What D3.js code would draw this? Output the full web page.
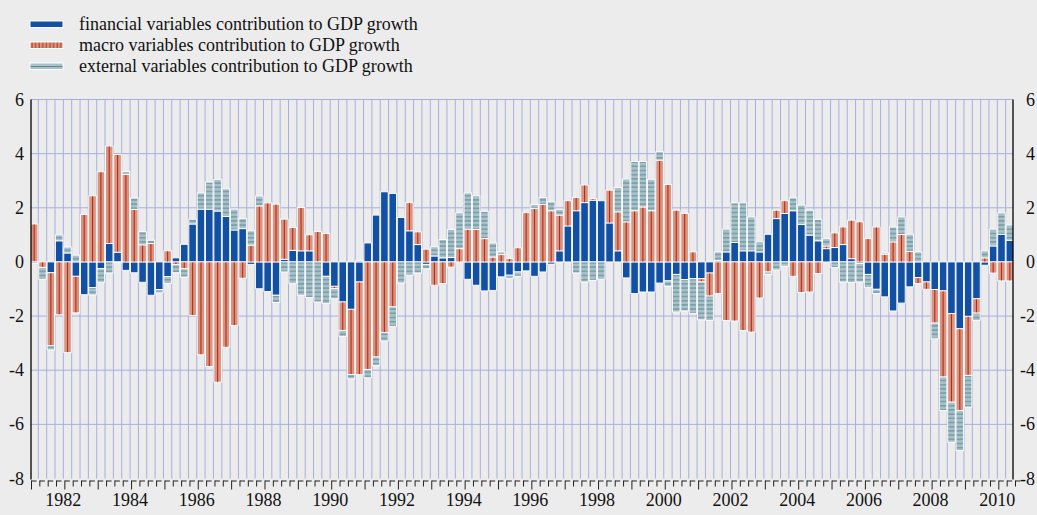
<!DOCTYPE html>
<html>
<head>
<meta charset="utf-8">
<script src="https://cdn.jsdelivr.net/npm/d3@7"></script>
<style>
    body { margin: 0; background: #ececec; }
    svg { display: block; }
    text { font-family: 'Liberation Serif', 'Times New Roman', serif; }
</style>
</head>
<body>
<svg width="1037" height="515"></svg>
<script>
// quarterly contributions, 1981Q1 - 2010Q2
const years = [1981, 1982, 1983, 1984, 1985, 1986, 1987, 1988, 1989, 1990,
    1991, 1992, 1993, 1994, 1995, 1996, 1997, 1998, 1999, 2000,
    2001, 2002, 2003, 2004, 2005, 2006, 2007, 2008, 2009, 2010];
const quarterNames = ['Q1', 'Q2', 'Q3', 'Q4'];
const quarterCount = 118;

const financial = [
    0, 0, -0.4, 0.78, 0.33, -0.53, -1.21, -0.95, -0.25, 0.68,
    0.36, -0.31, -0.4, -0.75, -1.23, -1.02, -0.54, 0.15, 0.65, 1.4,
    1.95, 1.95, 1.88, 1.68, 1.18, 1.23, -0.09, -0.99, -1.09, -1.23,
    0.1, 0.43, 0.41, 0.41, 0, -0.53, -0.9, -1.48, -1.75, -0.74,
    0.7, 1.73, 2.59, 2.53, 1.64, 1.15, 0.64, -0.09, 0.22, 0.15,
    0.16, 0, -0.64, -0.86, -1.07, -1.05, -0.55, -0.49, -0.37, -0.33,
    -0.53, -0.37, -0.08, 0.41, 1.33, 1.89, 2.19, 2.28, 2.26, 1.44,
    0.41, -0.59, -1.17, -1.11, -1.11, -0.78, -0.7, -0.46, -0.65, -0.62,
    -0.62, -0.41, 0.06, 0.37, 0.72, 0.41, 0.41, 0.37, 1.02, 1.6,
    1.79, 1.89, 1.38, 0.99, 0.78, 0.49, 0.53, 0.64, 0.12, -0.06,
    -0.46, -1.01, -1.29, -1.81, -1.52, -0.92, -0.58, -0.74, -1.02, -1.07,
    -1.91, -2.47, -2.01, -1.36, -0.12, 0.59, 1.02, 0.8
];
const macro = [
    1.4, -0.2, -2.7, -1.95, -3.35, -1.35, 1.75, 2.44, 3.33, 3.6,
    3.61, 3.23, 1.94, 0.63, 0.68, 0, 0.41, -0.1, -0.25, -1.98,
    -3.43, -3.86, -4.44, -3.15, -2.35, -0.6, 0.62, 2.07, 2.18, 2.13,
    1.48, 0.84, 1.6, 0.59, 1.12, 1.05, -0.08, -1.05, -2.41, -3.42,
    -3.97, -3.51, -2.61, -1.66, 0, 1.04, 0.47, 0.47, -0.86, -0.8,
    -0.19, 0.49, 1.21, 1.2, 0.86, 0.18, 0.27, 0.12, 0.52, 1.82,
    1.97, 2.12, 1.89, 1.32, 0.93, 0.49, 0.65, 0.06, 0, 1.21,
    1.44, 1.48, 1.89, 2.03, 1.89, 3.76, 2.86, 1.91, 1.79, 0.37,
    -0.12, -0.85, -1.17, -2.16, -2.18, -2.53, -2.59, -1.33, -0.37, 0.31,
    0.47, -0.53, -1.13, -1.11, -0.43, 0.1, 0.54, 0.65, 1.42, 1.48,
    0.86, 1.29, 0.28, 0.74, 1.01, 0.39, -0.22, -0.27, -1.24, -3.18,
    -3.27, -3.02, -2.18, -0.53, 0.15, -0.41, -0.7, -0.7
];
const external = [
    -0.05, -0.45, -0.15, 0.22, 0.22, 0.25, 0, -0.27, -0.5, -0.41,
    -0.03, 0.11, 0.42, 0.49, 0.12, -0.12, -0.26, -0.3, -0.31, 0.18,
    0.6, 1.0, 1.17, 1.02, 0.77, 0.37, 0.53, 0.36, 0, -0.27,
    -0.37, -0.8, -1.23, -1.32, -1.48, -1.01, -0.38, -0.22, -0.16, 0.06,
    -0.31, -0.31, -0.31, -0.72, -0.78, -0.49, -0.41, -0.16, 0.34, 0.68,
    1.04, 1.32, 1.34, 1.24, 1.01, 0.52, 0.1, -0.13, -0.16, 0,
    0.15, 0.26, 0.33, 0.21, 0, -0.41, -0.74, -0.68, -0.64, 0,
    0.9, 1.58, 1.82, 1.68, 1.16, 0.31, -0.2, -1.39, -1.16, -1.29,
    -1.4, -0.9, 0.31, 0.84, 1.46, 1.77, 1.25, 0.37, -0.09, -0.3,
    -0.16, 0.48, 0.72, 0.92, 0.79, 0.27, -0.21, -0.74, -0.76, -0.68,
    -0.49, -0.16, 0.05, 0.55, 0.65, 0.63, 0.37, 0, -0.58, -1.24,
    -1.48, -1.48, -1.17, -0.27, 0.26, 0.62, 0.79, 0.56
];

const seriesNames = [
    'financial variables contribution to GDP growth',
    'macro variables contribution to GDP growth',
    'external variables contribution to GDP growth'
];
const yTicks = [6, 4, 2, 0, -2, -4, -6, -8];
const yearLabels = [1982, 1984, 1986, 1988, 1990, 1992, 1994, 1996, 1998, 2000,
    2002, 2004, 2006, 2008, 2010];

(function () {
    const quarters = years.flatMap(y => quarterNames.map(q => y + q)).slice(0, quarterCount);
    const keys = ['financial', 'macro', 'external'];
    const rows = quarters.map((q, i) => ({
        quarter: q,
        financial: financial[i],
        macro: macro[i],
        external: external[i]
    }));

    const svg = d3.select('svg');
    const left = 31, right = 1013, top = 99.5, bottom = 478.5;
    const font = "'Liberation Serif', 'Times New Roman', serif";

    const x = d3.scaleBand()
            .domain(quarters)
            .range([30, 1014])
            .paddingInner(0.1)
            .paddingOuter(0.05);
    const step = x.step();
    const y = d3.scaleLinear()
            .domain([-8, 6])
            .range([bottom, top]);

    const fills = { financial: '#1150a3', macro: '#d9937e', external: '#a9c0c7' };

    const defs = svg.append('defs');
    const hatch = defs.append('pattern')
            .attr('id', 'hatch-ext')
            .attr('patternUnits', 'userSpaceOnUse')
            .attr('width', 8)
            .attr('height', 4.2);
    hatch.append('rect').attr('width', 8).attr('height', 4.2).attr('fill', fills.external);
    hatch.append('rect').attr('y', 2).attr('width', 8).attr('height', 1).attr('fill', '#5b8d9a');

    const stripes = defs.append('pattern')
            .attr('id', 'stripe-legend')
            .attr('patternUnits', 'userSpaceOnUse')
            .attr('width', 3.6)
            .attr('height', 8);
    stripes.append('rect').attr('width', 3.6).attr('height', 8).attr('fill', fills.macro);
    stripes.append('rect').attr('x', 1.5).attr('width', 1).attr('height', 8).attr('fill', '#b3321f');

    // grid
    const grid = svg.append('g').attr('stroke', '#a8aee0').attr('stroke-width', 1);
    grid.selectAll('line.v')
            .data(d3.range(1, quarterCount))
            .enter().append('line')
            .attr('class', 'v')
            .attr('x1', i => 30 + i * step)
            .attr('x2', i => 30 + i * step)
            .attr('y1', top)
            .attr('y2', bottom);
    grid.selectAll('line.h')
            .data(yTicks.filter(t => t !== 0 && t !== -8))
            .enter().append('line')
            .attr('class', 'h')
            .attr('x1', left)
            .attr('x2', right)
            .attr('y1', d => y(d))
            .attr('y2', d => y(d));

    // bars
    const stacked = d3.stack()
            .keys(keys)
            .offset(d3.stackOffsetDiverging)(rows);

    const layer = svg.append('g')
            .selectAll('g')
            .data(stacked)
            .enter().append('g')
            .attr('fill', d => d.key === 'external' ? 'url(#hatch-ext)' : fills[d.key]);

    const seg = layer.selectAll('g')
            .data(d => d.map(v => ({ key: d.key, v: v })))
            .enter().append('g')
            .filter(d => Math.abs(d.v[1] - d.v[0]) > 0.001);

    seg.append('rect')
            .attr('x', d => x(d.v.data.quarter))
            .attr('width', x.bandwidth())
            .attr('y', d => y(Math.max(d.v[0], d.v[1])))
            .attr('height', d => Math.abs(y(d.v[0]) - y(d.v[1])))
            .attr('stroke', '#ffffff')
            .attr('stroke-width', 0.9);

    seg.filter(d => d.key === 'macro')
            .append('line')
            .attr('x1', d => x(d.v.data.quarter) + x.bandwidth() / 2)
            .attr('x2', d => x(d.v.data.quarter) + x.bandwidth() / 2)
            .attr('y1', d => y(Math.max(d.v[0], d.v[1])) + 0.5)
            .attr('y2', d => y(Math.min(d.v[0], d.v[1])) - 0.5)
            .attr('stroke', '#ae2f1c')
            .attr('stroke-width', 1.1);

    // axes
    const axes = svg.append('g').attr('stroke', '#000').attr('stroke-width', 1.3);
    axes.append('line').attr('x1', left).attr('x2', left).attr('y1', top).attr('y2', bottom + 1);
    axes.append('line').attr('x1', right).attr('x2', right).attr('y1', top).attr('y2', bottom + 1);

    const tickPath = d3.range(0, quarterCount + 1).map(i => {
        const tx = 30 + i * step + 1.5;
        const len = i % 4 === 0 ? 9 : 6;
        return 'M' + tx + ',' + (bottom + 2) + 'v' + len + 'M' + tx + ',' + (bottom + 2.5) + 'h5';
    }).join('');
    svg.append('path')
            .attr('d', tickPath)
            .attr('fill', 'none')
            .attr('stroke', '#222')
            .attr('stroke-width', 1);

    const labelStyle = sel => sel
            .attr('font-family', font)
            .attr('font-size', 18)
            .attr('fill', '#111')
            .attr('dominant-baseline', 'central');

    svg.append('g').selectAll('text')
            .data(yTicks)
            .enter().append('text')
            .attr('x', 24)
            .attr('y', d => y(d))
            .attr('text-anchor', 'end')
            .text(d => d)
            .call(labelStyle);

    svg.append('g').selectAll('text')
            .data(yTicks)
            .enter().append('text')
            .attr('x', 1035)
            .attr('y', d => y(d))
            .attr('text-anchor', 'end')
            .text(d => d)
            .call(labelStyle);

    svg.append('g').selectAll('text')
            .data(yearLabels)
            .enter().append('text')
            .attr('x', d => x(d + 'Q1') - (step - x.bandwidth()) / 2)
            .attr('y', 500)
            .attr('text-anchor', 'middle')
            .text(d => d)
            .call(labelStyle);

    // legend
    const legend = svg.append('g')
            .selectAll('g')
            .data(keys)
            .enter().append('g')
            .attr('transform', (d, i) => 'translate(30,' + (21 + i * 21) + ')');

    legend.append('rect')
            .attr('width', 33)
            .attr('height', 6.5)
            .attr('fill', d => d === 'financial' ? fills.financial
                    : d === 'macro' ? 'url(#stripe-legend)' : fills.external)
            .attr('stroke', '#fff')
            .attr('stroke-width', 1);
    legend.filter(d => d === 'external')
            .append('line')
            .attr('x1', 0.5).attr('x2', 32.5)
            .attr('y1', 3.5).attr('y2', 3.5)
            .attr('stroke', '#5b8d9a')
            .attr('stroke-width', 1.2);

    legend.append('text')
            .attr('x', 49)
            .attr('y', 3)
            .text((d, i) => seriesNames[i])
            .call(labelStyle);
})();
</script>
</body>
</html>
